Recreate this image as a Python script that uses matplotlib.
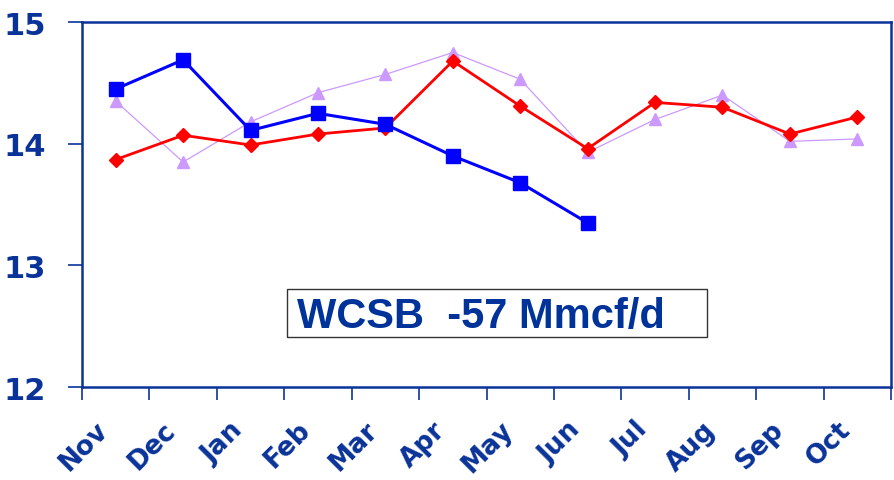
import numpy as np
import matplotlib.pyplot as plt
from matplotlib.patches import Rectangle

months = ["Nov", "Dec", "Jan", "Feb", "Mar", "Apr", "May", "Jun", "Jul", "Aug", "Sep", "Oct"]
blue_vals = [14.45, 14.69, 14.11, 14.25, 14.16, 13.90, 13.68, 13.35]
red_vals = [13.87, 14.07, 13.99, 14.08, 14.13, 14.68, 14.31, 13.96, 14.34, 14.30, 14.08, 14.22]
lilac_vals = [14.35, 13.85, 14.18, 14.42, 14.57, 14.75, 14.53, 13.93, 14.20, 14.40, 14.02, 14.04]
y_ticks = [12, 13, 14, 15]
note = "WCSB  -57 Mmcf/d"

axis_col = "#0a3399"

fig = plt.figure(figsize=(8.94, 4.81), dpi=100)
ax = fig.add_axes([0.0917, 0.193, 0.905, 0.759])

x = np.arange(len(months))
ax.plot(x, lilac_vals, color="#cc99ff", lw=0.9, marker="^", ms=9, zorder=2)
ax.plot(x, red_vals, color="#ff0000", lw=2, marker="D", ms=7, zorder=3)
ax.plot(x[:len(blue_vals)], blue_vals, color="#0000ff", lw=2.2, marker="s", ms=9.5, zorder=4)

ax.set_xlim(-0.5, len(months) - 0.5)
ax.set_ylim(12, 15)
ax.set_yticks(y_ticks)
ax.set_yticklabels([str(v) for v in y_ticks], fontsize=22, fontweight="bold",
                   color=axis_col, family="DejaVu Sans")
# month labels sit a little left of the point centres
ax.set_xticks(x - 0.3)
ax.set_xticklabels(months, rotation=45, ha="right", rotation_mode="anchor",
                   fontsize=19, fontweight="bold", color=axis_col, family="DejaVu Sans")
ax.set_xticks(np.arange(len(months) + 1) - 0.5, minor=True)
ax.tick_params(axis="x", which="major", length=0, pad=21)
ax.tick_params(axis="x", which="minor", length=9, color=axis_col, width=1.2, direction="out")
ax.tick_params(axis="y", length=10, color=axis_col, width=1.2, pad=16)
for s in ax.spines.values():
    s.set_color(axis_col)
    s.set_linewidth(1.8)

ax.add_patch(Rectangle((0.253, 0.137), 0.52, 0.131, transform=ax.transAxes,
                       fc="white", ec="#333333", lw=1, zorder=5))
ax.text(0.266, 0.195, note, transform=ax.transAxes, ha="left", va="center",
        fontsize=30, fontweight="bold", color="#003399", family="Liberation Sans", zorder=6)

fig.savefig("out.png", dpi=100)
